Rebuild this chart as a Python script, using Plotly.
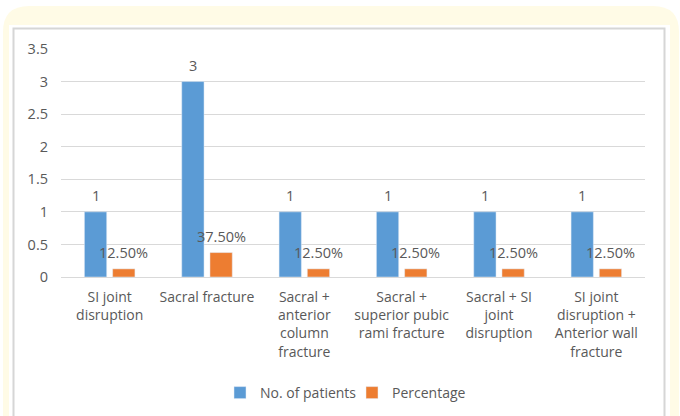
import plotly.graph_objects as go

# Fracture pattern distribution
categories = [
    "SI joint disruption",
    "Sacral fracture",
    "Sacral + anterior column fracture",
    "Sacral + superior pubic rami fracture",
    "Sacral + SI joint disruption",
    "SI joint disruption + Anterior wall fracture",
]
tick_labels = [
    "SI joint<br>disruption",
    "Sacral fracture",
    "Sacral +<br>anterior<br>column<br>fracture",
    "Sacral +<br>superior pubic<br>rami fracture",
    "Sacral + SI<br>joint<br>disruption",
    "SI joint<br>disruption +<br>Anterior wall<br>fracture",
]
patients = [1, 3, 1, 1, 1, 1]
percentage = [0.125, 0.375, 0.125, 0.125, 0.125, 0.125]
y_ticks = [0, 0.5, 1, 1.5, 2, 2.5, 3, 3.5]

W, H = 680, 416
FONT = "Open Sans"
TXT = "#595959"
BLUE = "#5B9BD5"
ORANGE = "#ED7D31"


def fx(px):
    return px / W


def fy(py):
    return 1 - py / H


fig = go.Figure()
fig.add_trace(go.Bar(name="No. of patients", x=categories, y=patients,
                     marker_color=BLUE))
fig.add_trace(go.Bar(name="Percentage", x=categories, y=percentage,
                     marker_color=ORANGE))

# data labels above each bar
annotations = []
for cat, v in zip(categories, patients):
    annotations.append(dict(x=cat, y=v, xref="x", yref="y", text=f"{v:g}",
                            showarrow=False, xshift=-14, yshift=16,
                            yanchor="middle",
                            font=dict(family=FONT, size=14.5, color=TXT)))
for cat, v in zip(categories, percentage):
    annotations.append(dict(x=cat, y=v, xref="x", yref="y",
                            text=f"{v * 100:.2f}%",
                            showarrow=False, xshift=14, yshift=16,
                            yanchor="middle",
                            font=dict(family=FONT, size=14.5, color=TXT)))

# framed background: cream rounded panel, white chart box with grey border
r = 26
x0, x1, y0, yb = 3, 679, 6, 430
cream_path = (
    f"M{fx(x0)},{fy(yb)} L{fx(x0)},{fy(y0 + r)} "
    f"Q{fx(x0)},{fy(y0)} {fx(x0 + r)},{fy(y0)} "
    f"L{fx(x1 - r)},{fy(y0)} Q{fx(x1)},{fy(y0)} {fx(x1)},{fy(y0 + r)} "
    f"L{fx(x1)},{fy(yb)} Z"
)
shapes = [
    dict(type="path", path=cream_path, xref="paper", yref="paper",
         fillcolor="#FFFBE6", line_width=0, layer="below"),
    dict(type="rect", xref="paper", yref="paper",
         x0=fx(9), x1=fx(670), y0=fy(440), y1=fy(25),
         fillcolor="white", line_width=0, layer="below"),
    dict(type="rect", xref="paper", yref="paper",
         x0=fx(13.5), x1=fx(664.5), y0=fy(440), y1=fy(28.5),
         fillcolor="rgba(0,0,0,0)", line=dict(color="#D6D6D6", width=2),
         layer="below"),
]

fig.update_layout(
    width=W, height=H,
    margin=dict(l=0, r=0, t=0, b=0),
    paper_bgcolor="white",
    plot_bgcolor="rgba(0,0,0,0)",
    barmode="group",
    bargap=0.42,
    bargroupgap=0.21,
    font=dict(family=FONT, size=14, color=TXT),
    showlegend=True,
    legend=dict(orientation="h", x=fx(352), xanchor="center",
                y=fy(393), yanchor="middle",
                font=dict(family=FONT, size=14, color=TXT),
                bgcolor="rgba(0,0,0,0)", itemwidth=30,
                entrywidth=87, entrywidthmode="pixels"),
    annotations=annotations,
    shapes=shapes,
)
fig.update_xaxes(domain=[fx(61), fx(645)], tickvals=categories,
                 ticktext=tick_labels, showgrid=False, ticks="",
                 showline=False, zeroline=False, automargin=False,
                 ticklabelstandoff=10,
                 tickfont=dict(family=FONT, size=14, color=TXT),
                 fixedrange=True)
fig.update_yaxes(domain=[fy(277), fy(49)], range=[0, 3.5],
                 tickvals=y_ticks, ticktext=[f"{t:g}" for t in y_ticks],
                 showgrid=True, gridcolor="#D9D9D9", gridwidth=1,
                 zeroline=True, zerolinecolor="#D9D9D9", zerolinewidth=1,
                 showline=False, ticks="", ticklabelstandoff=12,
                 automargin=False,
                 tickfont=dict(family=FONT, size=14.5, color=TXT),
                 fixedrange=True)

fig.write_html("out.html")
